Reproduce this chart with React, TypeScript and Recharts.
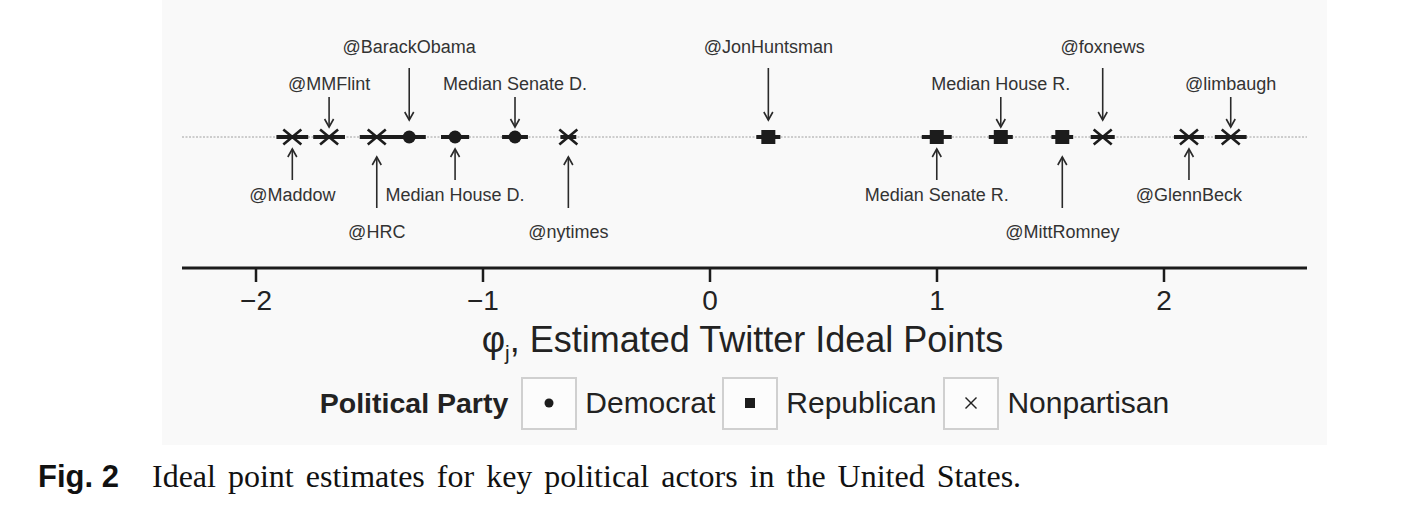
import React from 'react';
import { ScatterChart, Scatter, XAxis, YAxis, ErrorBar, ReferenceLine, Legend } from 'recharts';

// ---- data ----
const actors = ['@Maddow', '@MMFlint', '@HRC', '@BarackObama', 'Median House D.', 'Median Senate D.', '@nytimes', '@JonHuntsman', 'Median Senate R.', 'Median House R.', '@MittRomney', '@foxnews', '@GlennBeck', '@limbaugh'];
const idealPoints = [-1.84, -1.678, -1.468, -1.325, -1.123, -0.859, -0.624, 0.257, 0.999, 1.281, 1.552, 1.73, 2.11, 2.294];
const errors = [0.07, 0.07, 0.075, 0.073, 0.062, 0.057, 0.035, 0.053, 0.066, 0.053, 0.048, 0.053, 0.066, 0.07];
const parties = ['Nonpartisan', 'Nonpartisan', 'Nonpartisan', 'Democrat', 'Democrat', 'Democrat', 'Nonpartisan', 'Republican', 'Republican', 'Republican', 'Republican', 'Nonpartisan', 'Nonpartisan', 'Nonpartisan'];
const labelSlots = ['below1', 'above1', 'below2', 'above2', 'below1', 'above1', 'below2', 'above2', 'below1', 'above1', 'below2', 'above2', 'below1', 'above1'];
const partyOrder = ['Democrat', 'Republican', 'Nonpartisan'];
const tickValues = [-2, -1, 0, 1, 2];
const xDomain = [-2.326, 2.63];
const legendTitle = 'Political Party';
const axisTitle = ', Estimated Twitter Ideal Points';
const captionLead = 'Fig. 2';
const captionText = 'Ideal point estimates for key political actors in the United States.';

// ---- styles ----
const SANS = '"Liberation Sans", Arial, Helvetica, sans-serif';
const SERIF = '"Liberation Serif", "Times New Roman", serif';
const INK = '#1c1c1c';
const SLOT: Record<string, { labelDy: number; from: number; to: number }> = {
  above1: { labelDy: -47, from: -40, to: -10 },
  above2: { labelDy: -84, from: -69, to: -17 },
  below1: { labelDy: 64, from: 43, to: 12 },
  below2: { labelDy: 101, from: 71, to: 20 },
};

const rowsFor = (party: string) =>
  actors
    .map((name, i) => ({ name, x: idealPoints[i], y: 0, err: errors[i], party: parties[i], slot: labelSlots[i] }))
    .filter((r) => r.party === party);

const Symbol = ({ party, cx, cy }: { party: string; cx: number; cy: number }) => {
  if (party === 'Democrat') return <circle cx={cx} cy={cy} r={6.5} fill={INK} />;
  if (party === 'Republican') return <rect x={cx - 7} y={cy - 7} width={14} height={14} fill={INK} />;
  return (
    <g stroke={INK} strokeWidth={2.6}>
      <line x1={cx - 9} y1={cy - 7.5} x2={cx + 9} y2={cy + 7.5} />
      <line x1={cx - 9} y1={cy + 7.5} x2={cx + 9} y2={cy - 7.5} />
    </g>
  );
};

const Marker = (props: any) => {
  const { cx, cy, payload } = props;
  if (cx == null || cy == null || !payload) return <g />;
  const s = SLOT[payload.slot];
  const down = s.to < 0;
  const tipY = cy + s.to;
  const headDir = down ? -1 : 1;
  return (
    <g>
      <Symbol party={payload.party} cx={cx} cy={cy} />
      <line x1={cx} y1={cy + s.from} x2={cx} y2={tipY} stroke="#2a2a2a" strokeWidth={1.6} />
      <polyline
        points={`${cx - 4.5},${tipY + headDir * 8} ${cx},${tipY} ${cx + 4.5},${tipY + headDir * 8}`}
        fill="none"
        stroke="#2a2a2a"
        strokeWidth={1.6}
      />
      <text x={cx} y={cy + s.labelDy} textAnchor="middle" fontFamily={SANS} fontSize={18} fill="#333">
        {payload.name}
      </text>
    </g>
  );
};

const AxisTitle = (props: any) => {
  const vb = props.viewBox || { x: 182, y: 268, width: 1125, height: 177 };
  const cx = vb.x + vb.width / 2 - 2;
  const y = vb.y + 84;
  return (
    <text x={cx} y={y} textAnchor="middle" fontFamily={SANS} fontSize={36} fill="#222">
      <tspan>φ</tspan>
      <tspan fontSize={21} dy={8}>j</tspan>
      <tspan dy={-8}>{axisTitle}</tspan>
    </text>
  );
};

const LegendSymbol = ({ party }: { party: string }) => (
  <svg width={20} height={20} viewBox="-10 -10 20 20">
    {party === 'Democrat' && <circle cx={0} cy={0} r={4.5} fill={INK} />}
    {party === 'Republican' && <rect x={-5} y={-5} width={10} height={10} fill={INK} />}
    {party === 'Nonpartisan' && (
      <g stroke="#222" strokeWidth={1.4}>
        <line x1={-5.5} y1={-5.5} x2={5.5} y2={5.5} />
        <line x1={-5.5} y1={5.5} x2={5.5} y2={-5.5} />
      </g>
    )}
  </svg>
);

const LegendContent = () => (
  <div
    style={{
      display: 'flex',
      alignItems: 'center',
      justifyContent: 'center',
      fontFamily: SANS,
      fontSize: 30,
      color: '#222',
      height: 52,
    }}
  >
    <span style={{ fontWeight: 'bold', fontSize: 28.5, marginRight: 13 }}>{legendTitle}</span>
    {partyOrder.map((p, i) => (
      <React.Fragment key={p}>
        <span
          style={{
            width: 52,
            height: 49,
            border: '2px solid #d0d0d0',
            display: 'flex',
            alignItems: 'center',
            justifyContent: 'center',
            background: '#fcfcfc',
          }}
        >
          <LegendSymbol party={p} />
        </span>
        <span style={{ marginLeft: 8, marginRight: i < partyOrder.length - 1 ? 7 : 0 }}>{p}</span>
      </React.Fragment>
    ))}
  </div>
);

export default function App() {
  return (
    <div style={{ position: 'absolute', left: 0, top: 0, width: 1415, height: 520, background: '#fff', overflow: 'hidden' }}>
      <div style={{ position: 'absolute', left: 162, top: 0, width: 1165, height: 445, background: '#f9f9f9' }} />
      <div style={{ position: 'absolute', left: 0, top: 0 }}>
        <ScatterChart width={1415} height={445} margin={{ top: 6, right: 108, left: 182, bottom: 0 }}>
          <XAxis
            type="number"
            dataKey="x"
            domain={xDomain}
            allowDataOverflow
            ticks={tickValues}
            interval={0}
            tickFormatter={(v: number) => String(v).replace('-', '−')}
            axisLine={{ stroke: INK, strokeWidth: 3 }}
            tickLine={{ stroke: INK, strokeWidth: 2.5 }}
            tickSize={14}
            tickMargin={8}
            height={177}
            tick={{ fontSize: 28, fill: '#222', fontFamily: SANS }}
            label={{ content: AxisTitle }}
          />
          <YAxis type="number" dataKey="y" domain={[-1, 1]} hide />
          <ReferenceLine y={0} stroke="#a0a0a0" strokeWidth={1} strokeDasharray="2 1.5" />
          {partyOrder.map((p) => (
            <Scatter key={p} name={p} data={rowsFor(p)} isAnimationActive={false} shape={(props: any) => <Marker {...props} />}>
              <ErrorBar dataKey="err" direction="x" width={0} stroke={INK} strokeWidth={4} />
            </Scatter>
          ))}
          <Legend
            layout="horizontal"
            verticalAlign="middle"
            align="center"
            wrapperStyle={{ position: 'absolute', left: 182, top: 377, width: 1125, height: 52 }}
            content={() => <LegendContent />}
          />
        </ScatterChart>
      </div>
      <svg style={{ position: 'absolute', left: 0, top: 445 }} width={1415} height={75}>
        <text x={38} y={42} fontFamily={SANS} fontWeight="bold" fontSize={31} fill="#111">
          {captionLead}
        </text>
        <text x={152} y={42} fontFamily={SERIF} fontSize={32} fill="#111" style={{ wordSpacing: 4 }}>
          {captionText}
        </text>
      </svg>
    </div>
  );
}
